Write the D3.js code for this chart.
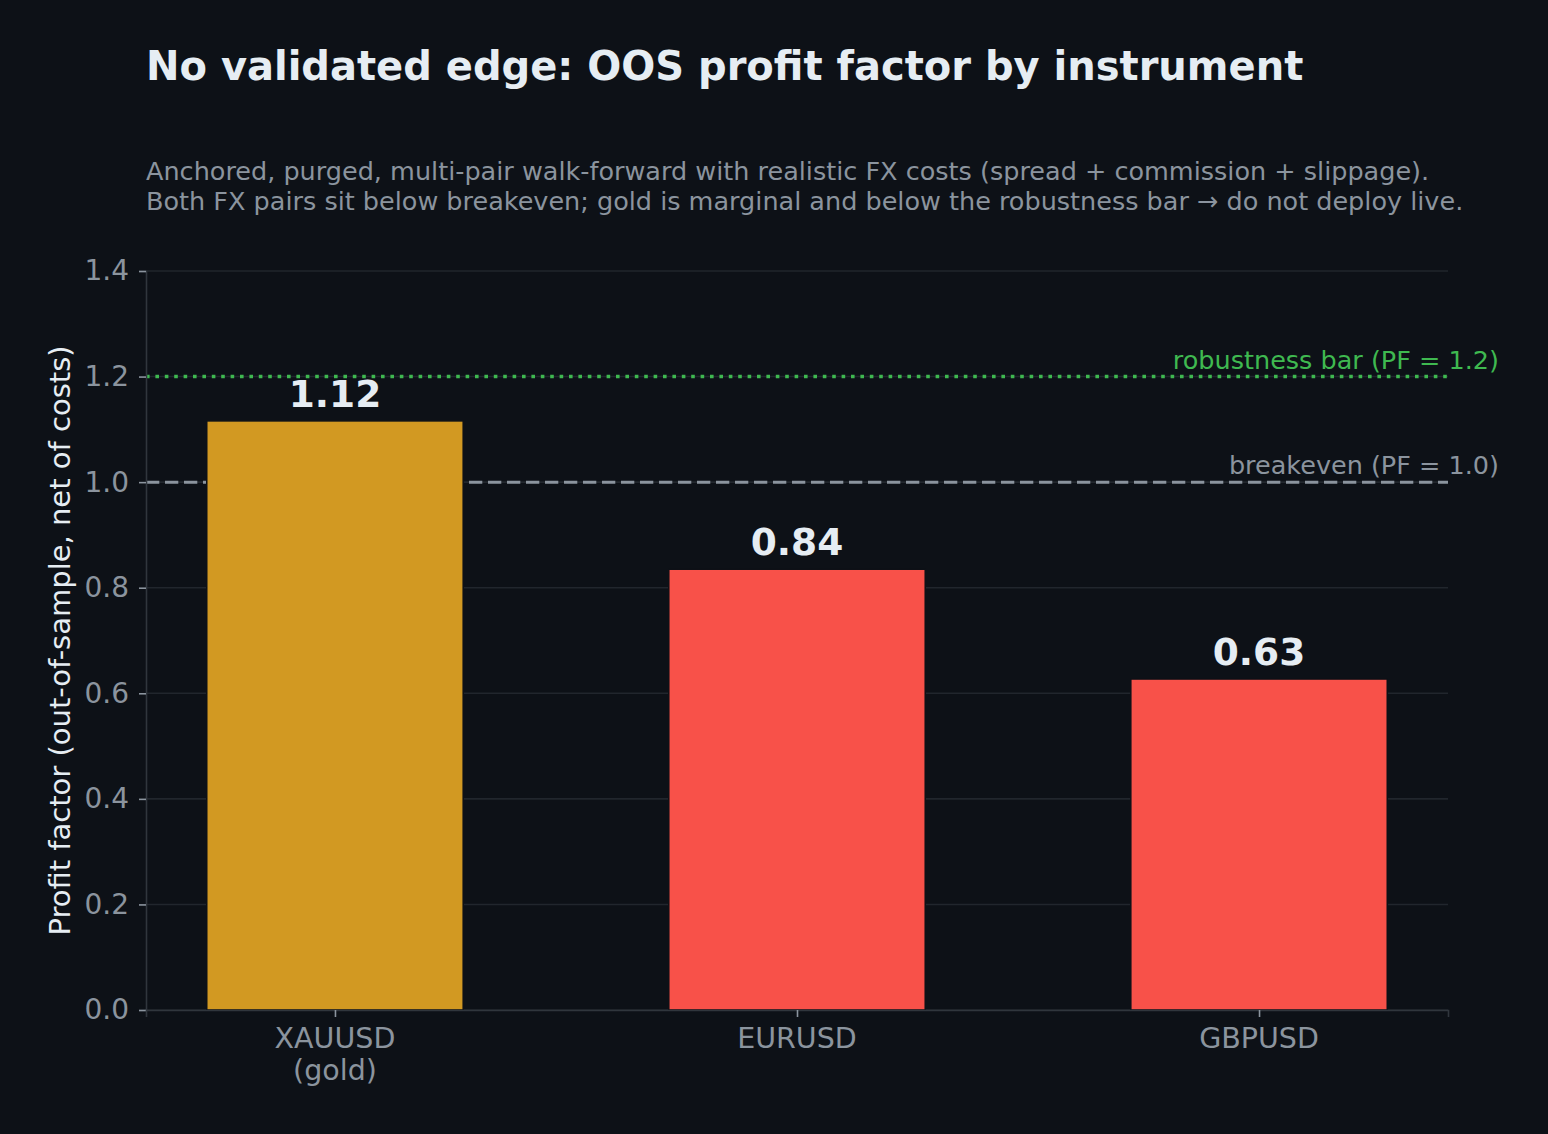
<!DOCTYPE html>
<html><head><meta charset="utf-8">
<script src="https://cdn.jsdelivr.net/npm/d3@7/dist/d3.min.js"></script>
<style>
html,body{margin:0;padding:0;background:#0d1117;}
svg{display:block;font-family:"DejaVu Sans",sans-serif;}
</style></head><body>
<svg id="c" width="1548" height="1134"></svg>
<script>
const categories = ["XAUUSD\n(gold)", "EURUSD", "GBPUSD"];
const values = [1.116, 0.835, 0.627];
const valueLabels = ["1.12", "0.84", "0.63"];
const barColors = ["#d29922", "#f85149", "#f85149"];
const yTicks = [0.0, 0.2, 0.4, 0.6, 0.8, 1.0, 1.2, 1.4];
const refLines = [
  {value: 1.0, label: "breakeven (PF = 1.0)", color: "#8b949e", dash: "13.3,5.7", width: 3},
  {value: 1.2, label: "robustness bar (PF = 1.2)", color: "#3fb950", dash: "3.6,5.8", width: 3.6}
];
const title = "No validated edge: OOS profit factor by instrument";
const subtitle = [
  "Anchored, purged, multi-pair walk-forward with realistic FX costs (spread + commission + slippage).",
  "Both FX pairs sit below breakeven; gold is marginal and below the robustness bar \u2192 do not deploy live."
];
const yLabel = "Profit factor (out-of-sample, net of costs)";

const svg = d3.select("#c");
svg.append("rect").attr("width",1548).attr("height",1134).attr("fill","#0d1117");

const L = 146, R = 1448, T = 271, B = 1010;
const x = d3.scaleLinear().domain([-0.409, 2.409]).range([L, R]);
const y = d3.scaleLinear().domain([0, 1.4]).range([B, T]);
const barW = 0.555;

// grid
svg.append("g").selectAll("line").data(yTicks).join("line")
  .attr("x1", L).attr("x2", R).attr("y1", d=>y(d)).attr("y2", d=>y(d))
  .attr("stroke", "#21262d").attr("stroke-width", 1.6);

// reference lines
refLines.forEach(r => {
  svg.append("line").attr("x1", L).attr("x2", R).attr("y1", y(r.value)).attr("y2", y(r.value))
    .attr("stroke", r.color).attr("stroke-width", r.width).attr("stroke-dasharray", r.dash);
  svg.append("text").attr("x", 1499).attr("y", y(r.value) - 8).attr("text-anchor","end")
    .attr("fill", r.color).attr("font-size", 25.5).text(r.label);
});

// bars
svg.append("g").selectAll("rect").data(values).join("rect")
  .attr("x", (d,i)=>x(i - barW/2)).attr("width", x(barW) - x(0))
  .attr("y", d=>y(d)).attr("height", d=>y(0)-y(d))
  .attr("fill", (d,i)=>barColors[i]).attr("stroke", "#0d1117").attr("stroke-width", 1.5);

// value labels
svg.append("g").selectAll("text").data(values).join("text")
  .attr("x", (d,i)=>x(i)).attr("y", d=>y(d) - 14).attr("text-anchor","middle")
  .attr("fill","#e6edf3").attr("font-size", 37.5).attr("font-weight","bold")
  .text((d,i)=>valueLabels[i]);

// y axis
const yAxis = d3.axisLeft(y).tickValues(yTicks).tickFormat(d3.format(".1f")).tickSize(7).tickPadding(10);
const gy = svg.append("g").attr("transform", `translate(${L},0)`).call(yAxis);
gy.select(".domain").attr("stroke", "#30363d").attr("stroke-width", 1.6);
gy.selectAll(".tick line").attr("stroke", "#8b949e").attr("stroke-width", 1.6);
gy.selectAll(".tick text").attr("fill", "#8b949e").attr("font-size", 28)
  .attr("font-family", "DejaVu Sans");

// x axis
const xAxis = d3.axisBottom(x).tickValues([0,1,2]).tickFormat("").tickSize(7);
const gx = svg.append("g").attr("transform", `translate(0,${B})`).call(xAxis);
gx.select(".domain").attr("stroke", "#30363d").attr("stroke-width", 1.6);
gx.selectAll(".tick line").attr("stroke", "#8b949e").attr("stroke-width", 1.6);
categories.forEach((c,i) => {
  const lines = c.split("\n");
  const t = svg.append("text").attr("x", x(i)).attr("y", B + 38).attr("text-anchor","middle")
    .attr("fill","#8b949e").attr("font-size", 28.5);
  lines.forEach((ln,j)=> t.append("tspan").attr("x", x(i)).attr("dy", j===0?0:32).text(ln));
});

// y label
svg.append("text").attr("transform", `translate(70,${(T+B)/2}) rotate(-90)`)
  .attr("text-anchor","middle").attr("fill","#e6edf3").attr("font-size", 29).text(yLabel);

// title
svg.append("text").attr("x", 146).attr("y", 80).attr("fill","#e6edf3")
  .attr("font-size", 40).attr("font-weight","bold").text(title);
subtitle.forEach((s,i)=>{
  svg.append("text").attr("x", 146).attr("y", 180 + i*30).attr("fill","#8b949e")
    .attr("font-size", 25.5).text(s);
});
</script></body></html>
